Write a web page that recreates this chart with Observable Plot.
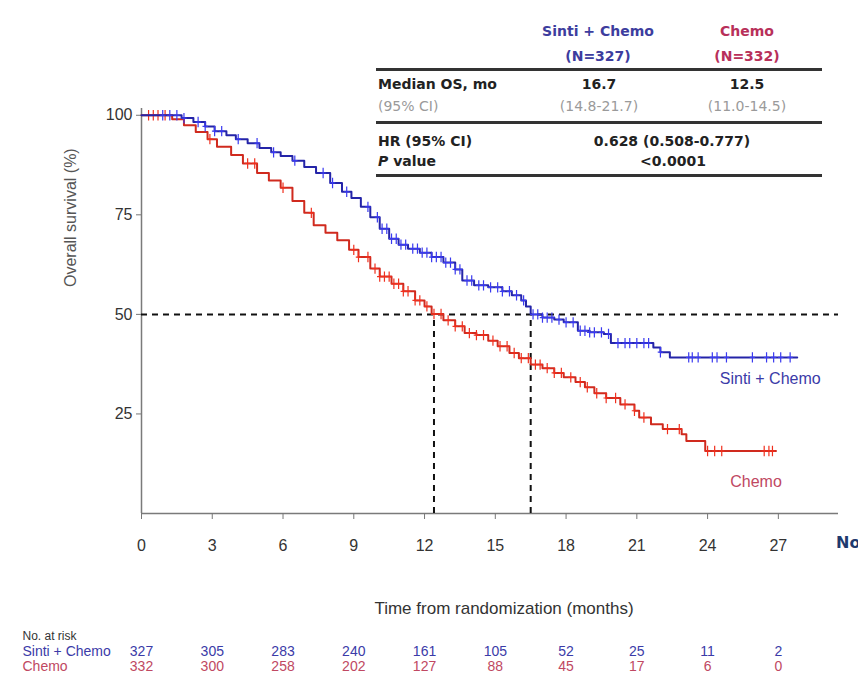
<!DOCTYPE html>
<html><head><meta charset="utf-8">
<script src="https://cdn.jsdelivr.net/npm/d3@7"></script>
<script src="https://cdn.jsdelivr.net/npm/@observablehq/plot@0.6"></script>
<style>
body{margin:0;background:#fff;}
#wrap{position:relative;width:858px;height:675px;overflow:hidden;}
.t{position:absolute;white-space:nowrap;font-family:"DejaVu Sans",sans-serif;font-size:14px;line-height:16px;}
.c{transform:translate(-50%,-50%);}
.l{transform:translate(0,-50%);}
.b{font-weight:bold;color:#222;}
.g{color:#9a9a9a;}
.rule{position:absolute;left:376px;width:446px;height:2.5px;background:#333;}
.km g[aria-label="x-axis tick label"] text,.km g[aria-label="y-axis tick label"] text{font-family:"Liberation Sans Narrow","Arial Narrow","Liberation Sans",sans-serif;font-size:16px;fill:#333;}
</style></head><body>
<div id="wrap">
<div id="chart"></div>
<div class="t c b" style="left:598px;top:31px;color:#3d3d9e">Sinti + Chemo</div>
<div class="t c b" style="left:598px;top:56px;color:#3d3d9e">(N=327)</div>
<div class="t c b" style="left:747px;top:31px;color:#b8305a">Chemo</div>
<div class="t c b" style="left:747px;top:56px;color:#b8305a">(N=332)</div>
<div class="rule" style="top:68px"></div>
<div class="t l b" style="left:378px;top:84px">Median OS, mo</div>
<div class="t c b" style="left:599px;top:84px">16.7</div>
<div class="t c b" style="left:747px;top:84px">12.5</div>
<div class="t l g" style="left:378px;top:106px">(95% CI)</div>
<div class="t c g" style="left:599px;top:106px">(14.8-21.7)</div>
<div class="t c g" style="left:747px;top:106px">(11.0-14.5)</div>
<div class="rule" style="top:121px"></div>
<div class="t l b" style="left:378px;top:141px">HR (95% CI)</div>
<div class="t c b" style="left:672px;top:141px">0.628 (0.508-0.777)</div>
<div class="t l b" style="left:378px;top:161px"><i>P</i> value</div>
<div class="t c b" style="left:673px;top:161px">&lt;0.0001</div>
<div class="rule" style="top:174px"></div>
<div class="t l" style="left:836px;top:543px;font-weight:bold;font-size:16px;color:#1e3a6e">No</div>
</div>
<script>
// ---- data ----
const armNames = ["Sinti + Chemo", "Chemo"];
const sintiTime = [0,1.7,2.2,2.7,3.1,3.6,4.0,4.5,5.0,5.5,5.9,6.4,6.9,7.4,8.0,8.5,8.9,9.3,9.7,10.1,10.5,10.9,11.3,11.8,12.3,12.8,13.3,13.6,14.1,14.7,15.3,15.7,16.1,16.3,16.5,17.0,17.5,17.9,18.5,19.0,19.6,19.9,21.7,22.0,22.4,27.8];
const sintiSurv = [100,99.3,98.3,97.2,96,95,94,93,91.8,90.7,89.8,88.6,87,85.5,83,80.8,79.2,77,74.4,71.5,69,67.5,66.5,65.5,64.4,63,61.3,58.5,57.3,56.8,55.8,54.8,53.5,52,50,49.2,48.7,48,45.9,45.5,45.1,42.8,41.7,40.5,39.2,39.2];
const chemoTime = [0,1.3,1.8,2.3,2.8,3.2,3.8,4.3,4.9,5.4,5.9,6.4,6.9,7.3,7.8,8.3,8.8,9.2,9.7,10.1,10.6,11.1,11.6,12.0,12.3,12.8,13.3,13.7,14.2,14.7,15.1,15.6,16.0,16.5,17.0,17.5,17.9,18.4,18.8,19.2,19.7,20.3,20.9,21.1,21.6,22.1,22.9,23.1,23.9,26.9];
const chemoSurv = [100,99,97.5,95.8,94,92.1,90,87.9,85.5,83.6,81.8,78.5,75.5,72.4,70.5,68.6,66.2,64.4,61.5,59.5,57.7,55.8,53.5,52,50.1,48.5,47,45.3,44.8,43.4,42,40.3,39,37.4,36.5,35.3,34.2,33,31.7,30.2,29,27.4,25.8,24.1,22.4,21.2,19.9,18.2,15.7,15.7];
const sintiCensor = [0.9,1.2,1.5,1.8,2.4,2.7,3.1,3.4,4.1,4.9,5.6,6.5,7.7,8.1,8.7,9.6,10.0,10.2,10.4,10.6,10.8,11.0,11.2,11.5,11.7,11.9,12.1,12.3,12.5,12.7,12.9,13.1,13.3,13.5,13.8,14.0,14.3,14.5,14.8,15.1,15.3,15.6,15.9,16.2,16.6,16.8,17.0,17.2,17.4,17.7,18.0,18.3,18.6,18.8,19.0,19.2,19.5,19.8,20.2,20.5,20.7,21.0,21.3,21.5,22.0,23.2,23.35,23.6,24.2,24.4,24.8,25.9,26.5,26.8,27.1,27.5];
const chemoCensor = [0.3,0.5,0.7,1.0,2.9,4.5,4.8,6.0,7.2,9.0,9.2,9.6,9.9,10.1,10.3,10.5,10.7,10.9,11.1,11.3,11.6,11.8,12.1,12.4,12.7,13.0,13.3,13.6,13.9,14.2,14.5,14.9,15.2,15.5,15.8,16.1,16.4,16.7,16.9,17.2,17.5,17.8,18.2,18.6,18.9,19.3,19.7,20.1,20.5,20.9,21.3,22.3,22.8,24.0,24.3,24.6,26.4,26.6,26.75];
const monthTicks = [0,3,6,9,12,15,18,21,24,27];
const survTicks = [25,50,75,100];
const riskSinti = [327,305,283,240,161,105,52,25,11,2];
const riskChemo = [332,300,258,202,127,88,45,17,6,0];
const medianLine = 50;
const medianTimes = [12.4, 16.5];

// ---- build tables ----
const curve = (T,S,arm) => T.map((t,i)=>({t, s:S[i], arm}));
const sinti = curve(sintiTime, sintiSurv, armNames[0]);
const chemo = curve(chemoTime, chemoSurv, armNames[1]);
const survAt = (T,S,t) => { let v=S[0]; for (let i=0;i<T.length;i++) if (T[i]<=t) v=S[i]; return v; };
const sintiC = sintiCensor.map(t=>({t, s:survAt(sintiTime,sintiSurv,t)}));
const chemoC = chemoCensor.map(t=>({t, s:survAt(chemoTime,chemoSurv,t)}));
const risk = monthTicks.map((m,i)=>({m, a:riskSinti[i], b:riskChemo[i]}));

const BLUE_LINE="#2424a8", BLUE_MARK="#3a3af0", RED_LINE="#d02a1e", RED_MARK="#f0301e";
const BLUE_TXT="#3b3ba8", RED_TXT="#c04862";
const censorSymbol = {draw(ctx,size){const r=Math.sqrt(size/Math.PI); ctx.moveTo(0,-r*1.15); ctx.lineTo(0,r*1.15); ctx.moveTo(-r*0.6,0); ctx.lineTo(r*0.6,0);}};
const narrow = '"Liberation Sans Narrow","Arial Narrow","Liberation Sans",sans-serif';

const chart = Plot.plot({
  width: 858, height: 675,
  marginLeft: 141, marginRight: 20, marginTop: 108, marginBottom: 162,
  className: "km",
  style: {fontFamily: '"Liberation Sans",Arial,sans-serif', color:"#555", background:"transparent", overflow:"visible"},
  x: {domain:[0,29.55]},
  y: {domain:[0,101.7]},
  marks: [
    Plot.ruleX([0], {stroke:"#7a7a7a", strokeWidth:1.5}),
    Plot.ruleY([0], {stroke:"#7a7a7a", strokeWidth:1.5}),
    Plot.axisX({ticks: monthTicks, tickSize:6, tickPadding:20, label:null, stroke:"#777"}),
    Plot.axisY({ticks: survTicks, tickSize:5, tickPadding:4, label:null, stroke:"#777"}),
    Plot.ruleY([medianLine], {stroke:"#111", strokeWidth:2, strokeDasharray:"6,5"}),
    Plot.ruleX(medianTimes, {y1:0, y2:medianLine, stroke:"#111", strokeWidth:2, strokeDasharray:"6,5"}),
    Plot.line(chemo, {x:"t", y:"s", curve:"step-after", stroke:RED_LINE, strokeWidth:2}),
    Plot.dot(chemoC, {x:"t", y:"s", symbol:censorSymbol, r:4.5, stroke:RED_MARK, fill:"none", strokeWidth:1.2}),
    Plot.line(sinti, {x:"t", y:"s", curve:"step-after", stroke:BLUE_LINE, strokeWidth:2}),
    Plot.dot(sintiC, {x:"t", y:"s", symbol:censorSymbol, r:4.5, stroke:BLUE_MARK, fill:"none", strokeWidth:1.2}),
    Plot.text(sinti, Plot.selectLast({x:"t", y:"s", text:()=>armNames[0], dx:-27, dy:21, fill:BLUE_TXT, fontSize:16, fontFamily:narrow})),
    Plot.text(chemo, Plot.selectLast({x:"t", y:"s", text:()=>armNames[1], dx:-20, dy:31, fill:RED_TXT, fontSize:16, fontFamily:narrow})),
    Plot.text(["Time from randomization (months)"], {frameAnchor:"bottom", lineAnchor:"middle", dx:14, dy:95, fill:"#333", fontSize:17, fontFamily:narrow}),
    Plot.text(["Overall survival (%)"], {frameAnchor:"left", rotate:-90, dx:-71, dy:-24, fill:"#555", fontSize:16, fontFamily:narrow}),
    Plot.text(["No. at risk"], {frameAnchor:"bottom-left", lineAnchor:"middle", textAnchor:"start", dx:-119, dy:123, fill:"#333", fontSize:12, fontFamily:narrow}),
    Plot.text([armNames[0]], {frameAnchor:"bottom-left", lineAnchor:"middle", textAnchor:"start", dx:-119, dy:138, fill:BLUE_TXT, fontSize:14, fontFamily:narrow}),
    Plot.text([armNames[1]], {frameAnchor:"bottom-left", lineAnchor:"middle", textAnchor:"start", dx:-119, dy:153, fill:RED_TXT, fontSize:14, fontFamily:narrow}),
    Plot.text(risk, {x:"m", frameAnchor:"bottom", lineAnchor:"middle", text:"a", dy:138, fill:BLUE_TXT, fontSize:14, fontFamily:narrow}),
    Plot.text(risk, {x:"m", frameAnchor:"bottom", lineAnchor:"middle", text:"b", dy:153, fill:RED_TXT, fontSize:14, fontFamily:narrow})
  ]
});
document.getElementById("chart").appendChild(chart);
</script>
</body></html>
